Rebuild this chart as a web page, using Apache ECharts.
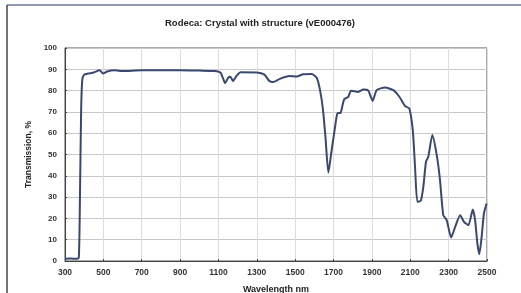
<!DOCTYPE html>
<html>
<head>
<meta charset="utf-8">
<script src="https://cdn.jsdelivr.net/npm/echarts@6/dist/echarts.min.js"></script>
<style>
  html, body { margin: 0; padding: 0; background: #fff; }
  #chart { width: 521px; height: 293px; }
</style>
</head>
<body>
<div id="chart"></div>
<script>
// wavelength in nm
const wavelength = [300, 330, 360, 372, 378, 384, 390, 400, 420, 450, 480, 500, 520, 560, 600, 700, 800, 900, 1000, 1080,
  1110, 1125, 1135, 1150, 1162, 1176, 1195, 1215, 1300, 1340, 1365, 1385, 1420, 1470, 1508, 1542, 1586, 1612, 1630, 1645,
  1658, 1673, 1690, 1708, 1720, 1737, 1755, 1777, 1791, 1829, 1855, 1881, 1904, 1925, 1968, 2012, 2043, 2073, 2095, 2113,
  2125, 2137, 2155, 2168, 2182, 2194, 2215, 2238, 2255, 2272, 2290, 2313, 2334, 2360, 2380, 2403, 2426, 2438, 2450, 2460,
  2472, 2484, 2498]
// transmission in %
const transmission = [1.0, 1.2, 1.0, 1.5, 30, 70, 85, 87.5, 88, 88.5, 89.5, 88, 89, 89.5, 89.2, 89.5, 89.5, 89.6, 89.4, 89.2,
  88.5, 85.5, 83.5, 86, 86.5, 84.5, 87, 88.6, 88.5, 87.5, 84.5, 84, 85.5, 86.8, 86.6, 87.7, 87.8, 86, 80, 71,
  58, 41.5, 52, 63, 69.3, 69.6, 75.8, 77.1, 79.9, 79.4, 80.5, 80, 75.2, 80.2, 81.5, 80.2, 77.1, 72.7, 71.6, 61.4,
  44, 27.8, 28.3, 34.8, 46.6, 48.9, 59.1, 49.7, 38, 21.5, 19.2, 11, 16, 21.5, 18.4, 16.8, 24.2, 19.2, 8.2, 3.2,
  11.3, 22.3, 27]

const xStart = 300 // axis starts at 300 nm, ticks every 200
const xEnd = 2500
const yTicks = [0, 10, 20, 30, 40, 50, 60, 70, 80, 90, 100]

const chart = echarts.init(document.getElementById('chart'))
const font = 'Liberation Sans, Arial, sans-serif'

const option = {
  animation: false,
  backgroundColor: '#fff',
  title: {
    text: 'Rodeca: Crystal with structure (vE000476)',
    left: 255,
    textAlign: 'center',
    top: 13,
    textStyle: { fontFamily: font, fontSize: 9.5, fontWeight: 'bold', color: '#222' }
  },
  grid: {
    left: 65, right: 34, top: 48, bottom: 32,
    outerBoundsMode: 'none',
    containLabel: false,
    show: true, borderColor: '#555', borderWidth: 1, backgroundColor: 'transparent'
  },
  xAxis: {
    type: 'value',
    min: 0,
    max: xEnd - xStart,
    interval: 200,
    name: 'Wavelength nm',
    nameLocation: 'middle',
    nameGap: 24,
    nameTextStyle: { fontFamily: font, fontSize: 9, fontWeight: 'bold', color: '#222' },
    axisLine: { lineStyle: { color: '#444' } },
    axisTick: { show: true, inside: true, length: 2, lineStyle: { color: '#444' } },
    axisLabel: {
      formatter: v => String(v + xStart),
      fontFamily: font, fontSize: 8.5, fontWeight: 'bold', color: '#333', margin: 7
    },
    splitLine: { show: true, lineStyle: { color: '#ddd', width: 1 } }
  },
  yAxis: {
    type: 'value',
    min: yTicks[0],
    max: yTicks[yTicks.length - 1],
    interval: 10,
    name: 'Transmission, %',
    nameLocation: 'middle',
    nameGap: 21,
    nameTextStyle: { fontFamily: font, fontSize: 8.5, fontWeight: 'bold', color: '#222' },
    axisLine: { show: true, lineStyle: { color: '#444' } },
    axisTick: { show: true, inside: true, length: 2, lineStyle: { color: '#444' } },
    axisLabel: { fontFamily: font, fontSize: 8, fontWeight: 'bold', color: '#333', margin: 8 },
    splitLine: { show: true, lineStyle: { color: '#c8c8c8', width: 1 } }
  },
  series: [
    {
      type: 'line',
      data: wavelength.map((w, i) => [w - xStart, transmission[i]]),
      showSymbol: false,
      smooth: 0.2,
      lineStyle: { color: '#3a4870', width: 2 }
    }
  ],
  graphic: [
    { type: 'line', shape: { x1: 7, y1: 5, x2: 521, y2: 5 }, style: { stroke: '#6b76a0', lineWidth: 1.5 } },
    { type: 'line', shape: { x1: 7, y1: 5, x2: 7, y2: 293 }, style: { stroke: '#444', lineWidth: 1.5 } }
  ]
}

chart.setOption(option)
</script>
</body>
</html>
